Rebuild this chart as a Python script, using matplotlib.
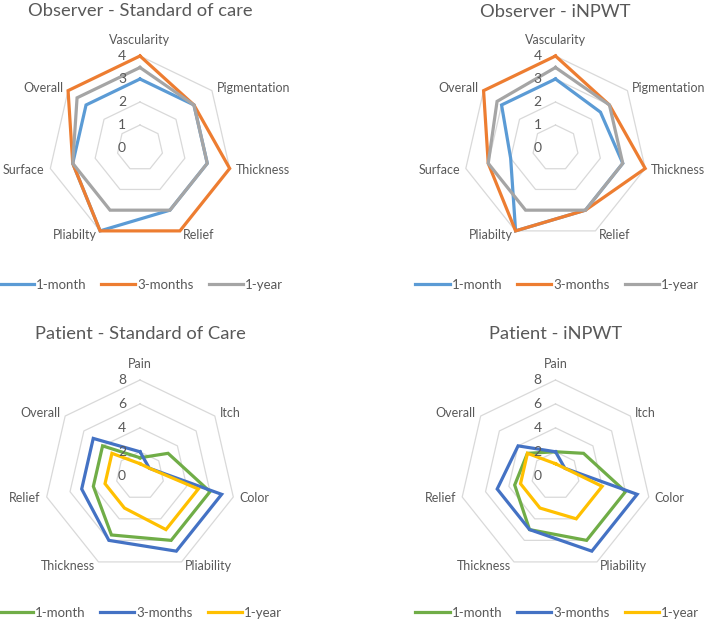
import numpy as np
import matplotlib
matplotlib.use('Agg')
import matplotlib.pyplot as plt
from matplotlib.lines import Line2D

plt.rcParams['font.family'] = ['Lato', 'DejaVu Sans']

# ---- data ----
obs_axes = ['Vascularity', 'Pigmentation', 'Thickness', 'Relief', 'Pliabilty', 'Surface', 'Overall']
pat_axes = ['Pain', 'Itch', 'Color', 'Pliability', 'Thickness', 'Relief', 'Overall']
series = ['1-month', '3-months', '1-year']

obs_soc_1m = [3, 3, 3, 3, 4, 3, 3]
obs_soc_3m = [4, 3, 4, 4, 4, 3, 4]
obs_soc_1y = [3.5, 3, 3, 3, 3, 3, 3.5]

obs_inpwt_1m = [3, 2.5, 3, 3, 4, 2, 3]
obs_inpwt_3m = [4, 3, 4, 3, 4, 3, 4]
obs_inpwt_1y = [3.5, 3, 3, 3, 3, 3, 3.25]

pat_soc_1m = [1.5, 3, 6, 6, 5.5, 4, 4]
pat_soc_3m = [2, 1, 7, 7, 6, 5, 5]
pat_soc_1y = [1, 1, 5, 5, 3, 3, 3]

pat_inpwt_1m = [2, 3, 6, 6, 5, 3.5, 3]
pat_inpwt_3m = [2, 1, 7, 7, 5, 5, 4]
pat_inpwt_1y = [1, 1, 4, 4, 3, 3, 3]

obs_ticks = [0, 1, 2, 3, 4]
pat_ticks = [0, 2, 4, 6, 8]

obs_colors = ['#5B9BD5', '#ED7D31', '#A5A5A5']
pat_colors = ['#70AD47', '#4472C4', '#FFC000']

TXT = '#595959'
GRID = '#D9D9D9'
W, H = 709, 624

fig = plt.figure(figsize=(W / 100, H / 100), dpi=100)


def radar(cx, cy, R, title, ty, cats, data, colors, ticks, lx, ly):
    ax = fig.add_axes([(cx - R) / W, 1 - (cy + R) / H, 2 * R / W, 2 * R / H],
                      projection='polar')
    ax.set_theta_offset(np.pi / 2)
    ax.set_theta_direction(-1)
    ax.set_ylim(0, ticks[-1])
    ax.set_axis_off()
    n = len(cats)
    th = np.linspace(0, 2 * np.pi, n, endpoint=False)
    thc = np.append(th, th[0])
    for t in ticks[1:]:
        ax.plot(thc, [t] * (n + 1), color=GRID, lw=0.9, zorder=1, clip_on=False)
    for vals, c in zip(data, colors):
        ax.plot(thc, list(vals) + [vals[0]], color=c, lw=2.3, zorder=3,
                clip_on=False, solid_joinstyle='miter')
    # radial tick labels
    for t in ticks:
        ax.annotate(str(t), xy=(0, t), xytext=(-18, 0), textcoords='offset pixels',
                    ha='center', va='center', fontsize=10, color=TXT, zorder=4,
                    annotation_clip=False)
    # category labels
    for a, lab in zip(th, cats):
        s, c = np.sin(a), np.cos(a)
        if abs(s) < 0.1:
            ha, off = 'center', (0, 16)
        else:
            ha = 'left' if s > 0 else 'right'
            off = (6 * s / abs(s) * max(abs(s), 0.5), 5 * c)
        ax.annotate(lab, xy=(a, ticks[-1]), xytext=off, textcoords='offset pixels',
                    ha=ha, va='center', fontsize=9, color=TXT,
                    annotation_clip=False)
    fig.text(cx / W, 1 - ty / H, title, ha='center', va='center',
             fontsize=13.2, color=TXT)
    handles = [Line2D([], [], color=c, lw=2.3) for c in colors]
    leg = fig.legend(handles, series, loc='center', bbox_to_anchor=(lx / W, 1 - ly / H),
                     ncol=3, frameon=False, handlelength=2.6, handletextpad=0.12,
                     columnspacing=1.15, fontsize=9.5)
    for t in leg.get_texts():
        t.set_color(TXT)


radar(140, 148, 92, 'Observer - Standard of care', 11, obs_axes,
      [obs_soc_1m, obs_soc_3m, obs_soc_1y], obs_colors, obs_ticks, 141, 285)
radar(555.5, 148, 92, 'Observer - iNPWT', 12, obs_axes,
      [obs_inpwt_1m, obs_inpwt_3m, obs_inpwt_1y], obs_colors, obs_ticks, 557, 285)
radar(140, 475.7, 95.7, 'Patient - Standard of Care', 334, pat_axes,
      [pat_soc_1m, pat_soc_3m, pat_soc_1y], pat_colors, pat_ticks, 140, 613)
radar(555.5, 475.7, 95.7, 'Patient - iNPWT', 334, pat_axes,
      [pat_inpwt_1m, pat_inpwt_3m, pat_inpwt_1y], pat_colors, pat_ticks, 557, 613)

fig.savefig('out.png', dpi=100)
